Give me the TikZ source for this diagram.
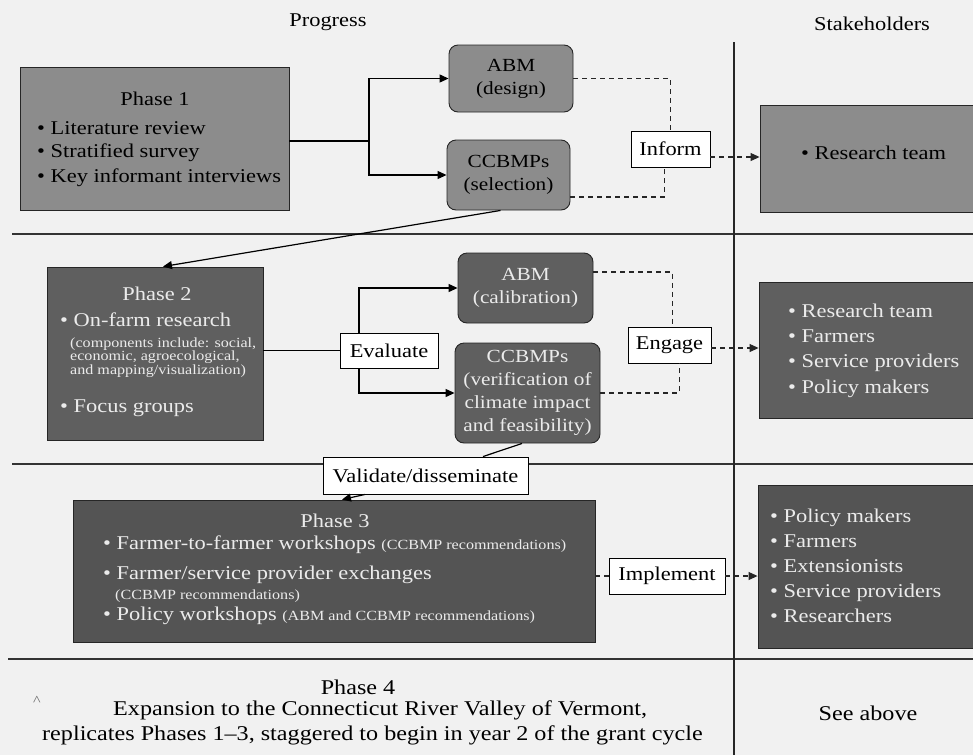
\documentclass[tikz,border=0pt]{standalone}
\usepackage{fontspec}
\setmainfont{Liberation Serif}[FakeStretch=1.15]
\usetikzlibrary{arrows.meta}
\definecolor{bgc}{HTML}{F1F1F1}
\definecolor{gA}{HTML}{8C8C8C}
\definecolor{gB}{HTML}{5F5F5F}
\definecolor{gC}{HTML}{545454}
\definecolor{lt}{HTML}{EBEBEB}
\newcommand\mainsz{\fontsize{19.5}{24}\selectfont}
\newcommand\boxsz{\fontsize{18.5}{23}\selectfont}
\newcommand\smallsz{\fontsize{14}{14}\selectfont}
\newcommand\botsz{\fontsize{21}{25}\selectfont}
\begin{document}
\begin{tikzpicture}[x=1pt,y=-1pt,
  bigbox/.style={draw=black!85, line width=0.9pt, inner sep=0pt},
  rbox/.style={draw=black!85, line width=0.9pt, rounded corners=9pt, inner sep=0pt, align=center, font=\boxsz},
  lab/.style={draw=black, fill=white, line width=0.9pt, inner sep=0pt, font=\mainsz},
  txt/.style={inner sep=0pt, font=\mainsz},
  smtxt/.style={inner sep=0pt, font=\smallsz},
  conn/.style={line width=1.2pt, black},
  arr/.style={conn, -{Triangle[length=9pt,width=8pt]}},
  dsh/.style={line width=1.1pt, dash pattern=on 5pt off 4pt, black!85},
  darr/.style={dsh, -{Triangle[length=9pt,width=8pt]}},
  sepline/.style={line width=1.3pt, black!80},
]
\fill[bgc] (0,0) rectangle (973,755);
\useasboundingbox (0,0) rectangle (973,755);

% separators
\draw[sepline] (12,234) -- (973,234);
\draw[sepline] (12,464) -- (973,464);
\draw[sepline] (8,659) -- (973,659);
\draw[line width=1.2pt, black!85] (734,42) -- (734,755);

% headers
\node[txt] (hprog) at (328,22) {Progress};
\node[txt] (hstake) at (872,24) {Stakeholders};

% Phase 1 row
\node[bigbox, fill=gA, minimum width=269pt, minimum height=143pt] (p1) at (154.5,138.5) {};
\node[txt, anchor=mid] (p1t) at (155,103) {Phase 1};
\node[txt, anchor=mid west] (p1a) at (37,132) {• Literature review};
\node[txt, anchor=mid west] (p1b) at (37,155) {• Stratified survey};
\node[txt, anchor=mid west] (p1c) at (37,180) {• Key informant interviews};

\node[rbox, fill=gA, minimum width=124pt, minimum height=67pt] (abm1) at (511,78.5) {ABM\\(design)};
\node[rbox, fill=gA, minimum width=123pt, minimum height=70pt] (cc1) at (508.5,175) {CCBMPs\\(selection)};
\node[lab, minimum width=79pt, minimum height=36pt] (inform) at (670.5,149) {Inform};
\node[bigbox, fill=gA, minimum width=230pt, minimum height=107pt] (st1) at (875,158.5) {};
\node[txt, anchor=mid west] (st1a) at (801,157) {• Research team};

% Phase 2 row
\node[bigbox, fill=gB, minimum width=216pt, minimum height=173pt] (p2) at (155,353.5) {};
\node[txt, text=lt, anchor=mid] (p2t) at (157,298) {Phase 2};
\node[txt, text=lt, anchor=mid west] (p2a) at (60,324) {• On-farm research};
\node[smtxt, text=lt, anchor=mid west] (p2b) at (70,345) {(components include: social,};
\node[smtxt, text=lt, anchor=mid west] (p2c) at (70,358.5) {economic, agroecological,};
\node[smtxt, text=lt, anchor=mid west] (p2d) at (70,372) {and mapping/visualization)};
\node[txt, text=lt, anchor=mid west] (p2e) at (60,410) {• Focus groups};

\node[rbox, fill=gB, text=lt, minimum width=135pt, minimum height=70pt] (abm2) at (525.5,288) {ABM\\(calibration)};
\node[rbox, fill=gB, text=lt, minimum width=145pt, minimum height=100pt] (cc2) at (527.5,393) {CCBMPs\\(verification of\\climate impact\\and feasibility)};
\node[lab, minimum width=98pt, minimum height=35pt] (eval) at (389,350.5) {Evaluate};
\node[lab, minimum width=83pt, minimum height=36pt] (engage) at (669.5,345) {Engage};
\node[bigbox, fill=gB, minimum width=226pt, minimum height=136pt] (st2) at (872,350) {};
\node[txt, text=lt, anchor=mid west] (st2a) at (788,315) {• Research team};
\node[txt, text=lt, anchor=mid west] (st2b) at (788,340) {• Farmers};
\node[txt, text=lt, anchor=mid west] (st2c) at (788,365) {• Service providers};
\node[txt, text=lt, anchor=mid west] (st2d) at (788,391) {• Policy makers};

% Phase 3 row
\node[lab, minimum width=205pt, minimum height=37pt] (valid) at (425.5,475.5) {Validate/disseminate};
\node[bigbox, fill=gC, minimum width=522pt, minimum height=142pt] (p3) at (334,571) {};
\node[txt, text=lt, anchor=mid] (p3t) at (335,525) {Phase 3};
\node[txt, text=lt, anchor=mid west] (p3a) at (103,547) {• Farmer-to-farmer workshops {\smallsz (CCBMP recommendations)}};
\node[txt, text=lt, anchor=mid west] (p3b) at (103,577) {• Farmer/service provider exchanges};
\node[smtxt, text=lt, anchor=mid west] (p3c) at (115,597) {(CCBMP recommendations)};
\node[txt, text=lt, anchor=mid west] (p3d) at (103,618) {• Policy workshops {\smallsz (ABM and CCBMP recommendations)}};
\node[lab, minimum width=116pt, minimum height=36pt] (impl) at (667,576) {Implement};
\node[bigbox, fill=gC, minimum width=227pt, minimum height=163pt] (st3) at (871.5,566.5) {};
\node[txt, text=lt, anchor=mid west] (st3a) at (770,520) {• Policy makers};
\node[txt, text=lt, anchor=mid west] (st3b) at (770,545) {• Farmers};
\node[txt, text=lt, anchor=mid west] (st3c) at (770,570) {• Extensionists};
\node[txt, text=lt, anchor=mid west] (st3d) at (770,595) {• Service providers};
\node[txt, text=lt, anchor=mid west] (st3e) at (770,620) {• Researchers};

% Phase 4 row
\node[txt, font=\botsz] (p4t) at (358,687) {Phase 4};
\node[inner sep=0pt, font=\smallsz, text=black!60] (caret) at (37,701) {\^{}};
\node[txt, font=\botsz, anchor=mid west] (p4a) at (113,713) {Expansion to the Connecticut River Valley of Vermont,};
\node[txt, font=\botsz, anchor=mid west] (p4b) at (42,738) {replicates Phases 1–3, staggered to begin in year 2 of the grant cycle};
\node[txt, font=\botsz] (seeab) at (868,713) {See above};

% connectors phase 1
\coordinate (j1) at (369,141);
\draw[conn] (p1.east |- j1) -- (j1);
\draw[arr] (j1) |- (abm1.west);
\draw[arr] (j1) |- (cc1.west);
\draw[dsh] (abm1.east) -| (inform.north);
\draw[dsh] ([yshift=-22pt]cc1.east) -| ([xshift=-6pt]inform.south);
\draw[darr] ([yshift=-8pt]inform.east) -- ([yshift=-8pt]inform.east -| st1.west);
\draw[arr] ([xshift=-8pt]cc1.south) -- ([xshift=8pt]p2.north);

% connectors phase 2
\draw[conn] (eval.west -| p2.east) -- (eval.west);
\draw[arr] ([xshift=-30pt]eval.north) |- (abm2.west);
\draw[arr] ([xshift=-30pt]eval.south) |- (cc2.west);
\draw[dsh] ([yshift=16pt]abm2.east) -| ([xshift=3pt]engage.north);
\draw[dsh] (cc2.east) -| ([xshift=10pt]engage.south);
\draw[darr] ([yshift=-3pt]engage.east) -- ([yshift=-3pt]engage.east -| st2.west);
\draw[conn] ([xshift=-5.5pt]cc2.south) -- ([xshift=57.5pt]valid.north);
\draw[arr] ([xshift=-60.5pt]valid.south) -- ([xshift=8pt]p3.north);

% connectors phase 3
\draw[dsh] (impl.west -| p3.east) -- (impl.west);
\draw[darr] (impl.east) -- (impl.east -| st3.west);
\end{tikzpicture}
\end{document}
